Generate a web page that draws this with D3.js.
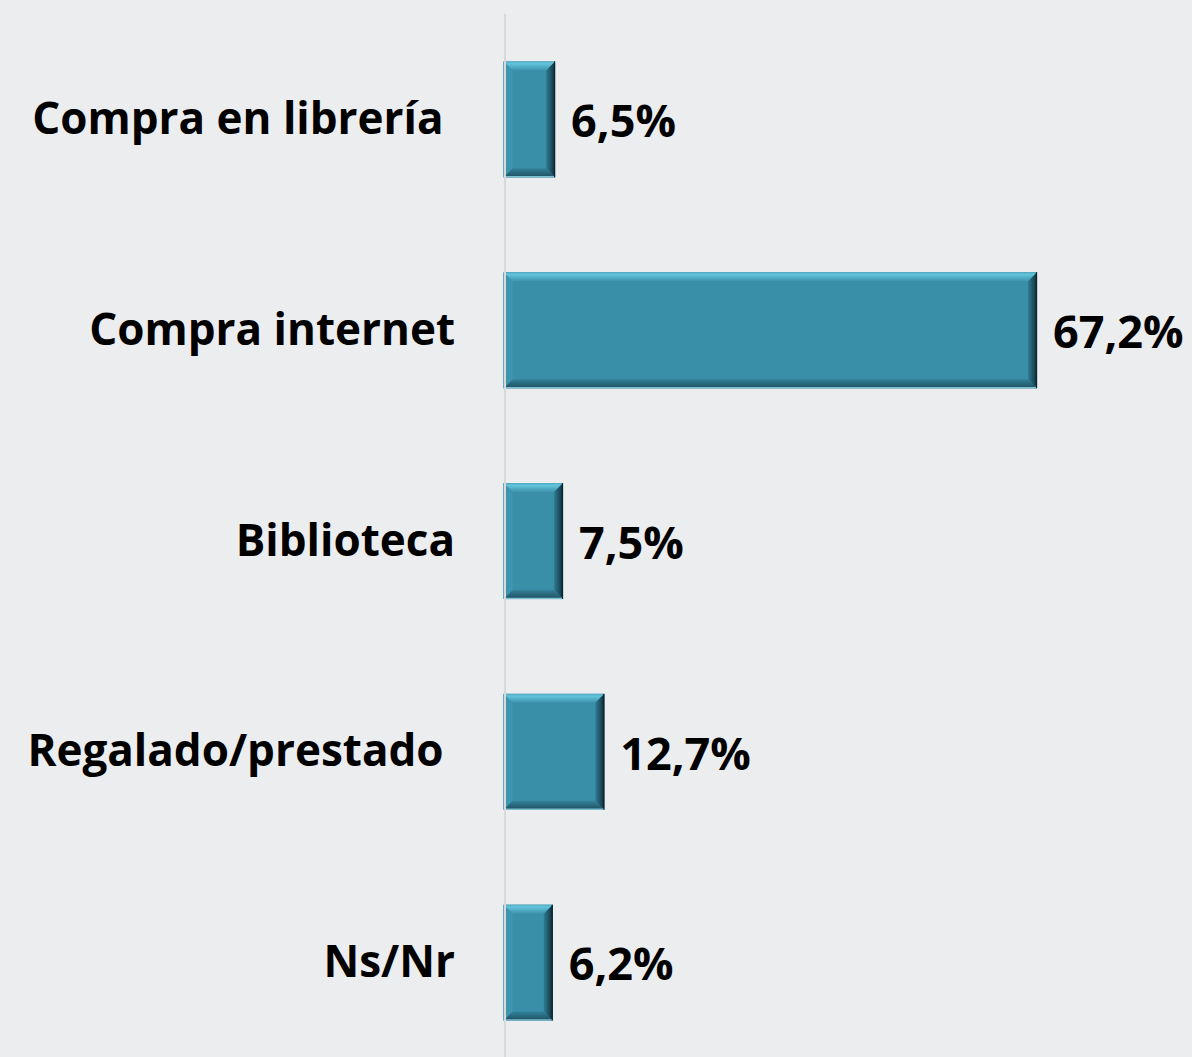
<!DOCTYPE html>
<html><head><meta charset="utf-8">
<script src="https://cdn.jsdelivr.net/npm/d3@7"></script>
<style>
html,body{margin:0;padding:0;background:#ECEDEF;}
svg{display:block;}
text{font-family:"Open Sans",Lato,sans-serif;font-weight:700;fill:#000;}
</style></head>
<body>
<script>
const categories = ["Compra en librería\u00A0", "Compra internet", "Biblioteca", "Regalado/prestado\u00A0", "Ns/Nr"];
const values = [6.5, 67.2, 7.5, 12.7, 6.2];
const valueLabels = ["6,5%", "67,2%", "7,5%", "12,7%", "6,2%"];

const W = 1192, H = 1057;
const svg = d3.select("body").append("svg").attr("width", W).attr("height", H);
svg.append("rect").attr("width", W).attr("height", H).attr("fill", "#ECEDEF");

const x = d3.scaleLinear().domain([0, 85]).range([503.5, 503.5 + 7.94 * 85]);
const y = d3.scaleBand().domain(categories).range([14, 1068]).paddingInner(0.45).paddingOuter(0.225);

const defs = svg.append("defs");
function grad(id, x1, y1, x2, y2, stops) {
  const g = defs.append("linearGradient").attr("id", id)
    .attr("x1", x1).attr("y1", y1).attr("x2", x2).attr("y2", y2);
  stops.forEach(s => g.append("stop").attr("offset", s[0]).attr("stop-color", s[1]));
}
grad("gTop", 0, 0, 0, 1, [[0, "#4fa9c2"], [0.25, "#62c4dc"], [1, "#3d93ac"]]);
grad("gBot", 0, 0, 0, 1, [[0, "#33819a"], [0.8, "#22596b"], [1, "#1d4c5c"]]);
grad("gLeft", 0, 0, 1, 0, [[0, "#3c93ad"], [1, "#3e96af"]]);
grad("gRight", 0, 0, 1, 0, [[0, "#2f7c93"], [0.6, "#1d4e5f"], [1, "#0d2a35"]]);

const b = 9;
const bars = svg.selectAll("g.bar").data(categories).join("g").attr("class", "bar");
bars.each(function(c, i) {
  const g = d3.select(this);
  const x0 = x(0), x1 = x(values[i]);
  const y0 = y(c), y1 = y(c) + y.bandwidth();
  const bb = Math.min(b, (x1 - x0) / 3);
  g.append("rect").attr("x", x0).attr("y", y0).attr("width", x1 - x0).attr("height", y1 - y0).attr("fill", "#3A8FA8");
  const pts = a => a.map(p => p.join(",")).join(" ");
  g.append("polygon").attr("points", pts([[x0, y0], [x1, y0], [x1 - bb, y0 + bb], [x0 + bb, y0 + bb]])).attr("fill", "url(#gTop)");
  g.append("polygon").attr("points", pts([[x0, y1], [x1, y1], [x1 - bb, y1 - bb], [x0 + bb, y1 - bb]])).attr("fill", "url(#gBot)");
  g.append("polygon").attr("points", pts([[x0, y0], [x0 + bb, y0 + bb], [x0 + bb, y1 - bb], [x0, y1]])).attr("fill", "url(#gLeft)");
  g.append("polygon").attr("points", pts([[x1, y0], [x1 - bb, y0 + bb], [x1 - bb, y1 - bb], [x1, y1]])).attr("fill", "url(#gRight)");
  g.append("line").attr("x1", x0).attr("x2", x1).attr("y1", y1 - 0.5).attr("y2", y1 - 0.5).attr("stroke", "#7fbfd2").attr("stroke-width", 1.5);
  g.append("line").attr("x1", x1 - 0.5).attr("x2", x1 - 0.5).attr("y1", y0).attr("y2", y1).attr("stroke", "#0b222b").attr("stroke-width", 1);
});

// axis line (drawn over bar starts)
svg.append("line").attr("x1", 505).attr("x2", 505).attr("y1", 14).attr("y2", H)
  .attr("stroke", "#D9D9D9").attr("stroke-width", 2);

// category labels
svg.selectAll("text.cat").data(categories).join("text").attr("class", "cat")
  .attr("x", 455).attr("y", d => y(d) + y.bandwidth() / 2 + 14.5)
  .attr("text-anchor", "end")
  .style("white-space", "pre")
  .attr("font-size", 44).text(d => d);

// value labels
svg.selectAll("text.val").data(values).join("text").attr("class", "val")
  .attr("x", d => x(d) + 16).attr("y", (d, i) => y(categories[i]) + y.bandwidth() / 2 + 17.8)
  .attr("font-size", 45).text((d, i) => valueLabels[i]);
</script>
</body></html>
